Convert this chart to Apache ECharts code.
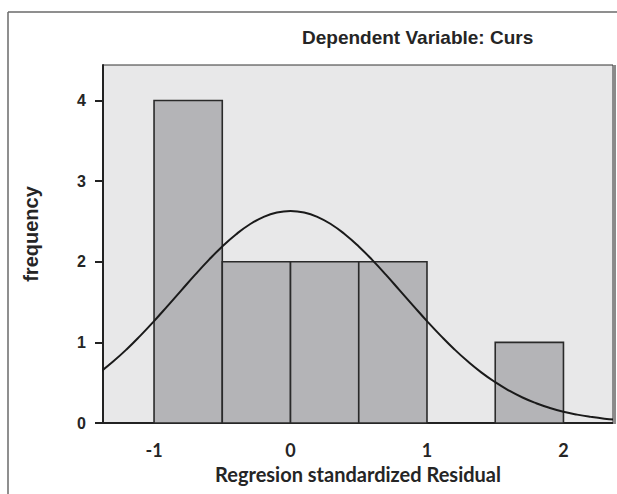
<!DOCTYPE html>
<html>
<head>
<meta charset="utf-8">
<script src="https://cdn.jsdelivr.net/npm/echarts@6/dist/echarts.min.js"></script>
<style>html,body{margin:0;padding:0;background:#fff;}#c{width:617px;height:494px;}</style>
</head>
<body>
<div id="c"></div>
<script>
// Histogram bins (standardized residual) and frequencies
const binStart = [-1.0, -0.5, 0.0, 0.5, 1.0, 1.5];
const binEnd   = [-0.5,  0.0, 0.5, 1.0, 1.5, 2.0];
const counts   = [4, 2, 2, 2, 0, 1];

// Normal curve, points
const curveX = [-1.4,-1.3,-1.2,-1.1,-1.0,-0.9,-0.8,-0.7,-0.6,-0.5,-0.4,-0.3,-0.2,-0.1,0.0,
                0.1,0.2,0.3,0.4,0.5,0.6,0.7,0.8,0.9,1.0,1.1,1.2,1.3,1.4,1.5,1.6,1.7,1.8,1.9,2.0,2.1,2.2,2.3,2.4];
const curveY = [0.625,0.762,0.915,1.084,1.264,1.453,1.645,1.837,2.020,2.190,2.339,2.462,2.554,2.611,2.63,
                2.611,2.554,2.462,2.339,2.190,2.020,1.837,1.645,1.453,1.264,1.084,0.915,0.762,0.625,0.506,0.403,0.316,0.245,0.187,0.140,0.104,0.076,0.054,0.039];

const xTicks = [-1, 0, 1, 2];
const yTicks = [0, 1, 2, 3, 4];

const titleText = 'Dependent Variable: Curs';
const xName = 'Regresion standardized Residual';
const yName = 'frequency';

const chart = echarts.init(document.getElementById('c'), null, {renderer: 'svg'});
const barData = binStart.map((s, i) => [s, binEnd[i], counts[i]]).filter(d => d[2] > 0);
const lineData = curveX.map((x, i) => [x, curveY[i]]);

chart.setOption({
  animation: false,
  backgroundColor: '#ffffff',
  title: {
    text: titleText, left: 297, top: 23,
    textStyle: {fontFamily: 'Liberation Sans, Arial', fontWeight: 'bold', fontSize: 19, color: '#252525'}
  },
  grid: {left: 103, right: 4, top: 65, bottom: 71, show: true,
         backgroundColor: '#e8e8e9', borderColor: '#333', borderWidth: 1},
  xAxis: {
    type: 'value', min: -1.374, max: 2.363,
    splitLine: {show: false},
    axisLine: {show: true, onZero: false, lineStyle: {color: '#222', width: 2}},
    axisTick: {show: false},
    axisLabel: {customValues: xTicks, margin: 18, fontFamily: 'Lato, Open Sans', fontWeight: 'bold', fontSize: 18, color: '#252525'},
    name: xName, nameLocation: 'middle', nameGap: 40,
    nameTextStyle: {fontFamily: 'Lato, Open Sans', fontWeight: 'bold', fontSize: 20, color: '#252525'}
  },
  yAxis: {
    type: 'value', min: 0, max: 4.44,
    splitLine: {show: false},
    axisLine: {show: true, onZero: false, lineStyle: {color: '#222', width: 2}},
    axisTick: {show: true, customValues: yTicks, length: 8, lineStyle: {color: '#222', width: 2}},
    axisLabel: {customValues: yTicks, margin: 17, fontFamily: 'Liberation Sans, Arial', fontWeight: 'bold', fontSize: 16, color: '#252525'}
  },
  graphic: [
    {type: 'line', shape: {x1: 8, y1: 12, x2: 617, y2: 12}, style: {stroke: '#6a6a6a', lineWidth: 1.5}},
    {type: 'line', shape: {x1: 8, y1: 12, x2: 8, y2: 494}, style: {stroke: '#6a6a6a', lineWidth: 1.5}},
    {type: 'line', shape: {x1: 614.5, y1: 65, x2: 614.5, y2: 424}, style: {stroke: '#8a8a8a', lineWidth: 3}, z: 100},
    {type: 'text', x: 31, y: 234, rotation: Math.PI / 2,
     style: {text: yName, align: 'center', verticalAlign: 'middle', fontFamily: 'Liberation Sans, Arial',
             fontWeight: 'bold', fontSize: 20, fill: '#252525'}}
  ],
  series: [
    {
      type: 'custom',
      data: barData,
      encode: {x: [0, 1], y: 2},
      renderItem: function (params, api) {
        const p0 = api.coord([api.value(0), api.value(2)]);
        const p1 = api.coord([api.value(1), 0]);
        return {
          type: 'rect',
          shape: {x: p0[0], y: p0[1], width: p1[0] - p0[0], height: p1[1] - p0[1]},
          style: {fill: '#b4b4b7', stroke: '#2a2a2a', lineWidth: 1.6}
        };
      },
      z: 2
    },
    {
      type: 'line', data: lineData, smooth: true, showSymbol: false, clip: true,
      lineStyle: {color: '#1a1a1a', width: 2}, z: 3
    }
  ]
});
</script>
</body>
</html>
